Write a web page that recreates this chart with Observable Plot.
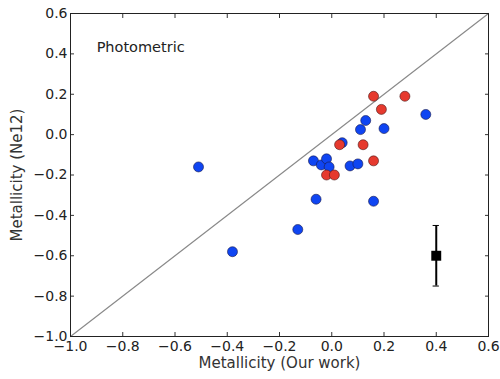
<!DOCTYPE html>
<html>
<head>
<meta charset="utf-8">
<script src="https://cdn.jsdelivr.net/npm/d3@7"></script>
<script src="https://cdn.jsdelivr.net/npm/@observablehq/plot@0.6"></script>
<style>
  html, body { margin: 0; padding: 0; background: #fff; }
  #chart svg { display: block; }
</style>
</head>
<body>
<div id="chart"></div>
<script>
// Metallicity: our estimates vs. Ne12 calibration (photometric sample)
const blueOurs = [-0.51, -0.38, -0.13, -0.07, -0.06, -0.04, -0.02, -0.01, 0.04, 0.07, 0.10, 0.11, 0.13, 0.16, 0.20, 0.36];
const blueNe12 = [-0.16, -0.58, -0.47, -0.13, -0.32, -0.15, -0.12, -0.16, -0.04, -0.155, -0.145, 0.025, 0.07, -0.33, 0.03, 0.10];
const redOurs = [-0.02, 0.01, 0.03, 0.12, 0.16, 0.16, 0.19, 0.28];
const redNe12 = [-0.20, -0.20, -0.05, -0.05, -0.13, 0.19, 0.125, 0.19];
// Typical uncertainty shown as a sample error bar
const errX = [0.4];
const errY = [-0.6];
const errSize = [0.15];
const ticks = [-1.0, -0.8, -0.6, -0.4, -0.2, 0.0, 0.2, 0.4, 0.6];
const label = ["Photometric"];

const blue = blueOurs.map((x, i) => ({x, y: blueNe12[i]}));
const red = redOurs.map((x, i) => ({x, y: redNe12[i]}));
const err = errX.map((x, i) => ({x, y: errY[i], lo: errY[i] - errSize[i], hi: errY[i] + errSize[i]}));

const fmt = d => d3.format(".1f")(d);
const none = () => "";
const font = "DejaVu Sans, sans-serif";

const chart = Plot.plot({
  width: 500,
  height: 379,
  marginLeft: 70,
  marginRight: 12,
  marginTop: 13,
  marginBottom: 43,
  style: {fontFamily: font, fontSize: "14px", color: "#222", background: "#fff"},
  x: {domain: [-1.0, 0.6]},
  y: {domain: [-1.0, 0.6]},
  marks: [
    // one-to-one line
    Plot.line([{x: ticks[0], y: ticks[0]}, {x: ticks[ticks.length - 1], y: ticks[ticks.length - 1]}],
      {x: "x", y: "y", stroke: "#8a8a8a", strokeWidth: 1.2}),
    Plot.dot(blue, {x: "x", y: "y", r: 5, fill: "#0f45f2", stroke: "#1a1a4a", strokeWidth: 0.6}),
    Plot.dot(red, {x: "x", y: "y", r: 5, fill: "#e63a2e", stroke: "#4a1a1a", strokeWidth: 0.6}),
    Plot.ruleX(err, {x: "x", y1: "lo", y2: "hi", stroke: "#000", strokeWidth: 2}),
    Plot.ruleY(err, {y: "lo", x1: d => d.x - 0.012, x2: d => d.x + 0.012, stroke: "#000", strokeWidth: 1}),
    Plot.ruleY(err, {y: "hi", x1: d => d.x - 0.012, x2: d => d.x + 0.012, stroke: "#000", strokeWidth: 1}),
    Plot.dot(err, {x: "x", y: "y", symbol: "square", r: 5.6, fill: "#000"}),
    Plot.text(label, {x: -0.9, y: 0.43, text: d => d, textAnchor: "start", fontSize: 14.5, fill: "#222"}),
    // axes with inward ticks on all four sides
    Plot.axisX(ticks, {anchor: "bottom", tickSize: -4, tickPadding: 9, tickFormat: fmt, label: null, stroke: "#333"}),
    Plot.axisX(ticks, {anchor: "top", tickSize: -4, tickFormat: none, label: null, stroke: "#333"}),
    Plot.axisY(ticks, {anchor: "left", tickSize: -4, tickPadding: 7, tickFormat: fmt, label: null, stroke: "#333"}),
    Plot.axisY(ticks, {anchor: "right", tickSize: -4, tickFormat: none, label: null, stroke: "#333"}),
    Plot.frame({stroke: "#222", strokeWidth: 1}),
    Plot.text(["Metallicity (Our work)"], {frameAnchor: "bottom", dy: 31, text: d => d, fontSize: 15, fill: "#333"}),
    Plot.text(["Metallicity (Ne12)"], {frameAnchor: "left", textAnchor: "middle", dx: -53, rotate: -90, text: d => d, fontSize: 15, fill: "#333"})
  ]
});

document.getElementById("chart").appendChild(chart);
</script>
</body>
</html>
